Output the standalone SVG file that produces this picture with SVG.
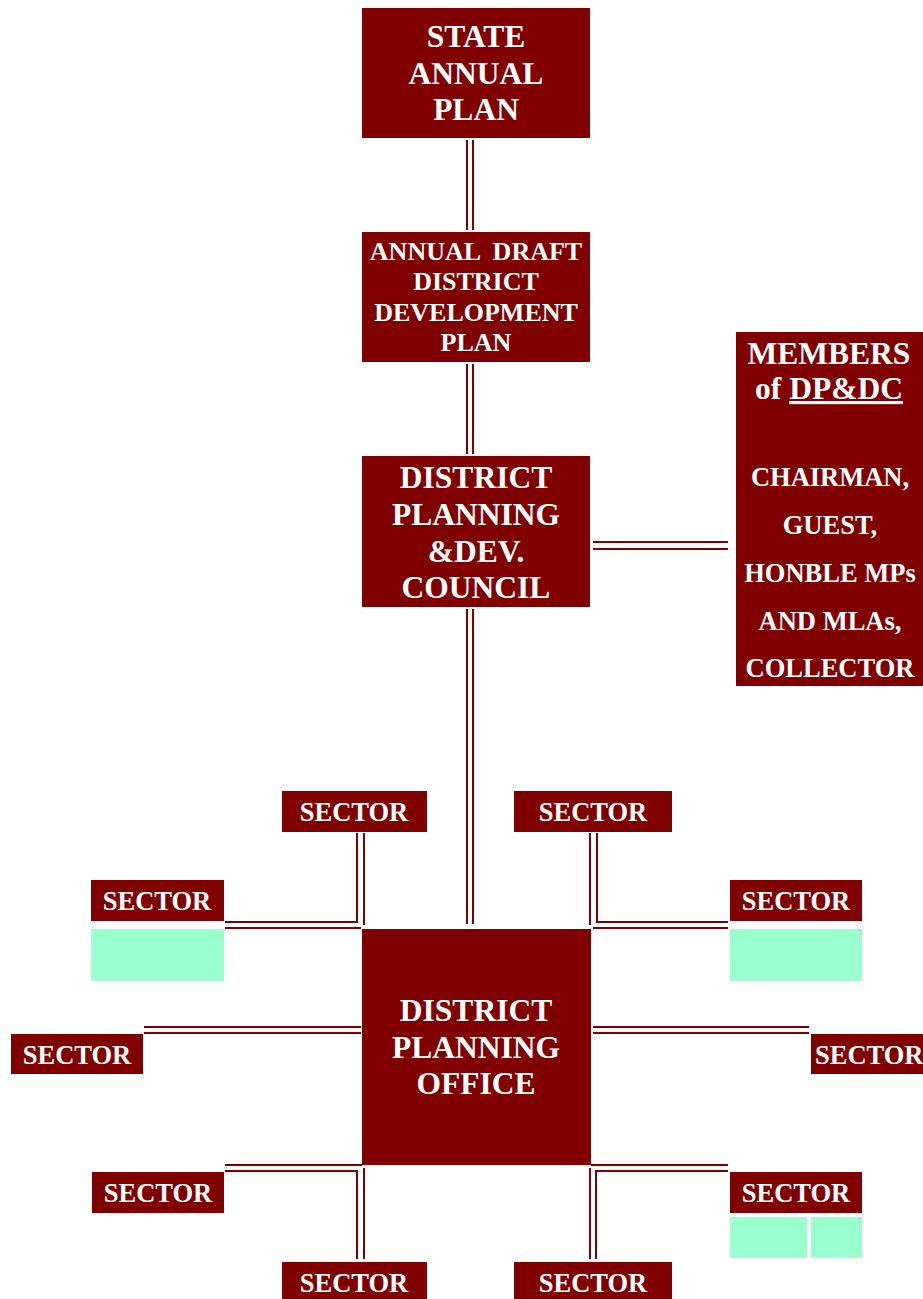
<svg xmlns="http://www.w3.org/2000/svg" width="923" height="1299" viewBox="0 0 923 1299">
<style>
.box{fill:#800000}
.green{fill:#99FFCC}
.t{font-family:"Liberation Serif","Times New Roman",serif;font-weight:bold;fill:#ffffff;text-anchor:middle}
.big{font-size:31.5px}
.mid{font-size:26px}
.sm{font-size:26.5px}
.c{fill:none;stroke:#800000;stroke-width:2}
</style>
<rect width="923" height="1299" fill="#ffffff"/>
<g id="connectors">
<line class="c" x1="467" y1="140" x2="467" y2="230"/>
<line class="c" x1="473" y1="140" x2="473" y2="230"/>
<line class="c" x1="467" y1="364" x2="467" y2="454"/>
<line class="c" x1="473" y1="364" x2="473" y2="454"/>
<line class="c" x1="467" y1="609" x2="467" y2="924"/>
<line class="c" x1="473" y1="609" x2="473" y2="924"/>
<line class="c" x1="593" y1="542" x2="728" y2="542"/>
<line class="c" x1="593" y1="549" x2="728" y2="549"/>
<polyline class="c" points="357,833 357,922 225,922"/>
<line class="c" x1="364" y1="833" x2="364" y2="925"/>
<line class="c" x1="225" y1="928" x2="361" y2="928"/>
<polyline class="c" points="597,833 597,922 728,922"/>
<line class="c" x1="590" y1="833" x2="590" y2="925"/>
<line class="c" x1="593" y1="928" x2="728" y2="928"/>
<line class="c" x1="144" y1="1027" x2="361" y2="1027"/>
<line class="c" x1="144" y1="1033" x2="361" y2="1033"/>
<line class="c" x1="593" y1="1027" x2="809" y2="1027"/>
<line class="c" x1="593" y1="1033" x2="809" y2="1033"/>
<line class="c" x1="225" y1="1165" x2="362" y2="1165"/>
<polyline class="c" points="225,1171 357,1171 357,1259"/>
<line class="c" x1="364" y1="1168" x2="364" y2="1259"/>
<line class="c" x1="591" y1="1165" x2="728" y2="1165"/>
<polyline class="c" points="728,1171 596,1171 596,1259"/>
<line class="c" x1="590" y1="1168" x2="590" y2="1259"/>
</g>
<g id="state">
<rect class="box" x="362" y="8" width="228" height="130"/>
<text class="t big" x="476" y="47">STATE</text>
<text class="t big" x="476" y="84">ANNUAL</text>
<text class="t big" x="476" y="120">PLAN</text>
</g>
<g id="draft">
<rect class="box" x="362" y="232" width="228" height="130"/>
<text class="t mid" x="476" y="260" xml:space="preserve">ANNUAL  DRAFT</text>
<text class="t mid" x="476" y="290">DISTRICT</text>
<text class="t mid" x="476" y="321">DEVELOPMENT</text>
<text class="t mid" x="476" y="351">PLAN</text>
</g>
<g id="council">
<rect class="box" x="362" y="456" width="228" height="151"/>
<text class="t big" x="476" y="488">DISTRICT</text>
<text class="t big" x="476" y="525">PLANNING</text>
<text class="t big" x="476" y="562">&amp;DEV.</text>
<text class="t big" x="476" y="598">COUNCIL</text>
</g>
<g id="members">
<rect class="box" x="736" y="332" width="187" height="354"/>
<text class="t big" x="829" y="364">MEMBERS</text>
<text class="t big" x="829" y="399">of <tspan text-decoration="underline">DP&amp;DC</tspan></text>
<text class="t sm" x="830" y="486">CHAIRMAN,</text>
<text class="t sm" x="830" y="534">GUEST,</text>
<text class="t sm" x="830" y="582">HONBLE MPs</text>
<text class="t sm" x="830" y="630">AND MLAs,</text>
<text class="t sm" x="830" y="677">COLLECTOR</text>
</g>
<g id="office">
<rect class="box" x="362" y="929" width="229" height="236"/>
<text class="t big" x="476" y="1021">DISTRICT</text>
<text class="t big" x="476" y="1058">PLANNING</text>
<text class="t big" x="476" y="1094">OFFICE</text>
</g>
<g id="sector-top-left">
<rect class="box" x="282" y="791" width="145" height="41"/>
<text class="t sm" x="354" y="821">SECTOR</text>
</g>
<g id="sector-top-right">
<rect class="box" x="514" y="791" width="158" height="41"/>
<text class="t sm" x="593" y="821">SECTOR</text>
</g>
<g id="sector-upper-left">
<rect class="box" x="91" y="880" width="133" height="41"/>
<text class="t sm" x="157" y="910">SECTOR</text>
<rect class="green" x="91" y="929" width="133" height="52"/>
</g>
<g id="sector-upper-right">
<rect class="box" x="730" y="880" width="132" height="41"/>
<text class="t sm" x="796" y="910">SECTOR</text>
<rect class="green" x="730" y="929" width="132" height="52"/>
</g>
<g id="sector-mid-left">
<rect class="box" x="11" y="1034" width="132" height="40"/>
<text class="t sm" x="77" y="1064">SECTOR</text>
</g>
<g id="sector-mid-right">
<rect class="box" x="811" y="1034" width="112" height="40"/>
<text class="t sm" x="815" y="1064" style="text-anchor:start">SECTOR</text>
</g>
<g id="sector-low-left">
<rect class="box" x="92" y="1172" width="132" height="41"/>
<text class="t sm" x="158" y="1202">SECTOR</text>
</g>
<g id="sector-low-right">
<rect class="box" x="730" y="1172" width="132" height="41"/>
<text class="t sm" x="796" y="1202">SECTOR</text>
<rect class="green" x="730" y="1217" width="77" height="41"/>
<rect class="green" x="811" y="1217" width="51" height="41"/>
</g>
<g id="sector-bottom-left">
<rect class="box" x="282" y="1262" width="145" height="37"/>
<text class="t sm" x="354" y="1292">SECTOR</text>
</g>
<g id="sector-bottom-right">
<rect class="box" x="514" y="1262" width="158" height="37"/>
<text class="t sm" x="593" y="1292">SECTOR</text>
</g>
</svg>
